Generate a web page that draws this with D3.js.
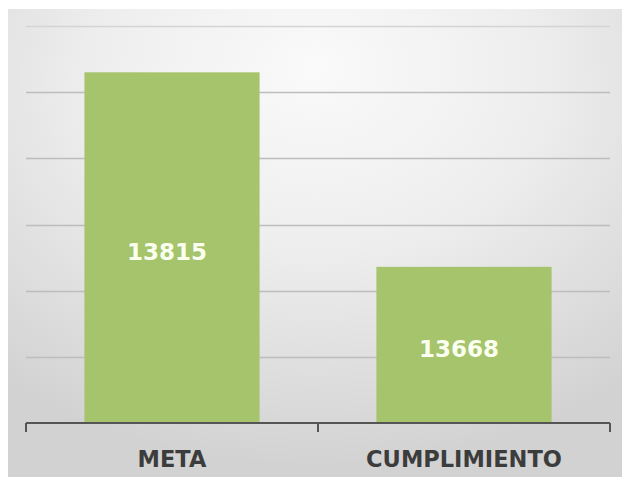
<!DOCTYPE html>
<html>
<head>
<meta charset="utf-8">
<script src="https://cdn.jsdelivr.net/npm/d3@7/dist/d3.min.js"></script>
<style>
  html, body { margin: 0; padding: 0; background: #ffffff; }
  svg { display: block; }
</style>
</head>
<body>
<svg id="chart" width="622" height="477"></svg>
<script>
// ---- data ----
const categories = ["META", "CUMPLIMIENTO"];
const values = [13815, 13668];
const valueLabels = ["13815", "13668"];
const yTicks = [13550, 13600, 13650, 13700, 13750, 13800, 13850];

// ---- layout ----
const W = 622, H = 477;
const plot = { left: 26, right: 610, top: 26, bottom: 423 };

const svg = d3.select("#chart");
const defs = svg.append("defs");
const grad = defs.append("radialGradient")
  .attr("id", "bg").attr("cx", "50%").attr("cy", "18%").attr("r", "80%")
  .attr("fx", "50%").attr("fy", "12%");
grad.append("stop").attr("offset", "0%").attr("stop-color", "#fafafa");
grad.append("stop").attr("offset", "45%").attr("stop-color", "#eeeeee");
grad.append("stop").attr("offset", "100%").attr("stop-color", "#d2d2d2");

svg.append("rect").attr("x", 8).attr("y", 9).attr("width", W - 8).attr("height", H - 9)
  .attr("fill", "url(#bg)");

const x = d3.scaleBand().domain(categories)
  .range([plot.left, plot.right]).paddingInner(0.4).paddingOuter(0.2);
const y = d3.scaleLinear().domain([13550, 13850]).range([plot.bottom, plot.top]);

// gridlines
svg.append("g").selectAll("line").data(yTicks.slice(1)).join("line")
  .attr("x1", plot.left).attr("x2", plot.right)
  .attr("y1", d => Math.round(y(d)) + 0.5).attr("y2", d => Math.round(y(d)) + 0.5)
  .attr("stroke", (d, i) => i === yTicks.length - 2 ? "#d4d4d4" : "#bdbdbd")
  .attr("stroke-width", 1.4);

// bars
svg.append("g").selectAll("rect").data(categories).join("rect")
  .attr("x", d => x(d)).attr("width", x.bandwidth())
  .attr("y", (d, i) => y(values[i]))
  .attr("height", (d, i) => y(13550) - y(values[i]))
  .attr("fill", "#a6c46c");

// value labels
svg.append("g").selectAll("text").data(categories).join("text")
  .attr("x", d => x(d) + x.bandwidth() / 2 - 5)
  .attr("y", (d, i) => (y(values[i]) + y(13550)) / 2 + 4)
  .attr("text-anchor", "middle").attr("dominant-baseline", "central")
  .attr("font-family", "'DejaVu Sans', sans-serif").attr("font-weight", "bold")
  .attr("font-size", 23).attr("fill", "#fbfff0")
  .text((d, i) => valueLabels[i]);

// x axis
const step = x.step();
const boundaries = [plot.left, plot.left + step, plot.right];
svg.append("line").attr("x1", plot.left).attr("x2", plot.right)
  .attr("y1", plot.bottom).attr("y2", plot.bottom)
  .attr("stroke", "#555555").attr("stroke-width", 2);
svg.append("g").selectAll("line").data(boundaries).join("line")
  .attr("x1", d => d).attr("x2", d => d)
  .attr("y1", plot.bottom).attr("y2", plot.bottom + 9)
  .attr("stroke", "#555555").attr("stroke-width", 2);

svg.append("g").selectAll("text").data(categories).join("text")
  .attr("x", d => x(d) + x.bandwidth() / 2)
  .attr("y", 467)
  .attr("text-anchor", "middle")
  .attr("font-family", "'DejaVu Sans', sans-serif").attr("font-weight", "bold")
  .attr("font-size", 22.5).attr("fill", "#3c3c3c")
  .text(d => d);
</script>
</body>
</html>
